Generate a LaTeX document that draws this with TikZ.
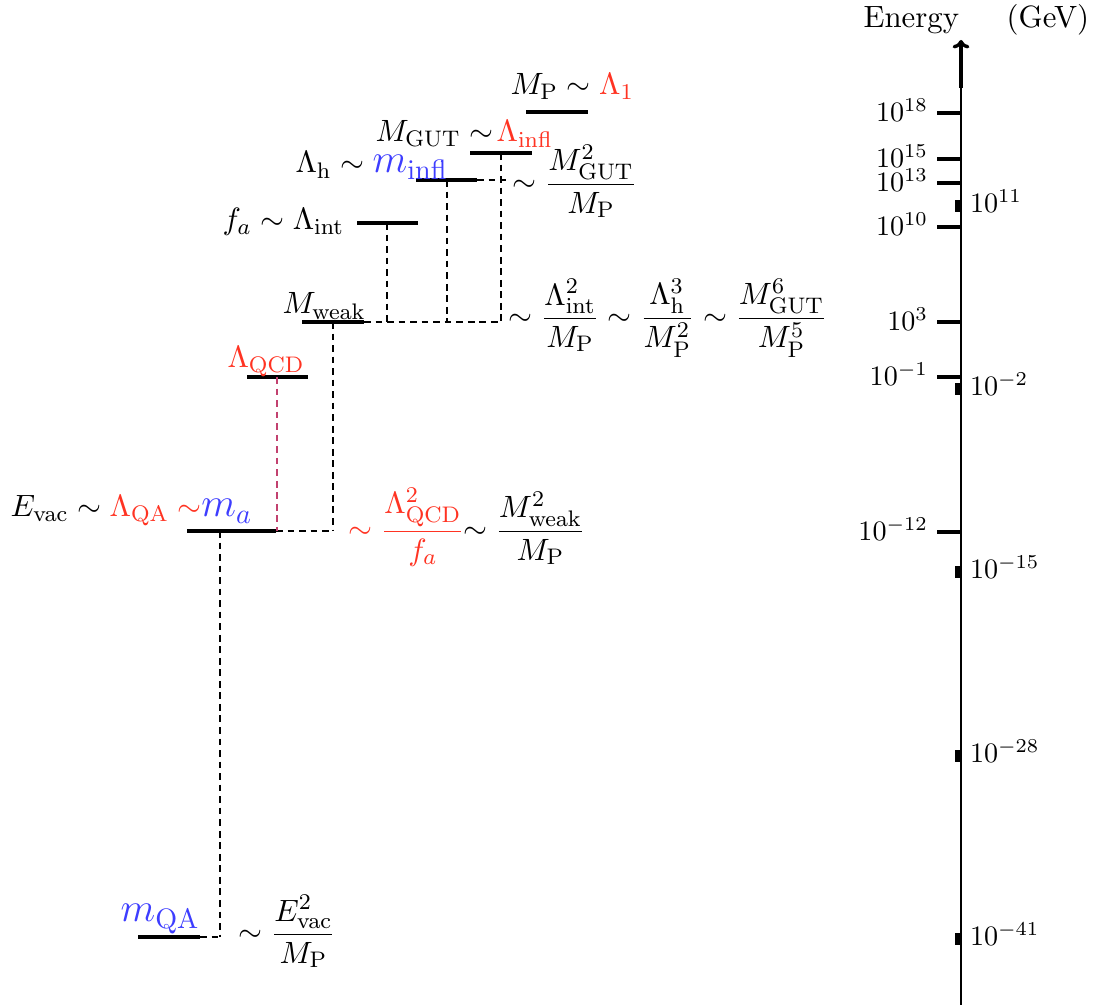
\documentclass[tikz,border=0pt,11pt]{standalone}
\usepackage{amsmath,amssymb}
\usepackage{xcolor}
\usetikzlibrary{arrows.meta,positioning,calc}
\definecolor{scRed}{HTML}{FF3322}
\definecolor{scBlue}{HTML}{3D3DFF}
\definecolor{scPurple}{HTML}{C2416F}

\begin{document}
\begin{tikzpicture}[
  x=0.0125cm,y=-0.0125cm,
  level/.style={line width=1.1pt},
  link/.style={draw=black,line width=0.6pt,dash pattern=on 2.4pt off 1.7pt},
  qcdlink/.style={link,draw=scPurple},
  lbl/.style={inner sep=0pt,anchor=base west},
  tickmark/.style={line width=1.1pt},
  ticklbl/.style={anchor=east,inner sep=3pt,yshift=1pt,font=\small},
  blip/.style={fill=black},
  bliplbl/.style={anchor=west,inner sep=3pt,yshift=2pt,font=\small}
]
\useasboundingbox (0,0) rectangle (1096,1005);

% energy levels
\coordinate (mp-w) at (526,112);  \coordinate (mp-e) at (588,112);
\coordinate (gut-w) at (470,153); \coordinate (gut-e) at (532,153);
\coordinate (h-w) at (416,180);   \coordinate (h-e) at (477,180);
\coordinate (fa-w) at (357,223);  \coordinate (fa-e) at (418,223);
\coordinate (wk-w) at (302,322);  \coordinate (wk-e) at (364,322);
\coordinate (qcd-w) at (247,377); \coordinate (qcd-e) at (308,377);
\coordinate (a-w) at (187,531);   \coordinate (a-e) at (276,531);
\coordinate (qa-w) at (138,937);  \coordinate (qa-e) at (200,937);
\foreach \lv in {mp,gut,h,fa,wk,qcd,a,qa}
  \draw[level] (\lv-w) -- (\lv-e);

\coordinate (gut-c) at (501,153);
\coordinate (h-c) at (447,180);
\coordinate (fa-c) at (387,223);
\coordinate (wk-c) at (333,322);
\coordinate (qcd-c) at (277,377);
\coordinate (a-c) at (220,531);
\coordinate (h-j) at (506,180);
\coordinate (wk-j) at (501,322);
\coordinate (a-j) at (333,531);
\coordinate (qa-j) at (220,937);

\draw[link] (h-e) -- (h-j);
\draw[link] (gut-c) -- (wk-j);
\draw[link] (h-c) -- (h-c |- wk-j);
\draw[link] (fa-c) -- (fa-c |- wk-j);
\draw[link] (wk-e) -- (wk-j);
\draw[link] (wk-c) -- (a-j);
\draw[link] (a-e) -- (a-j);
\draw[qcdlink] (qcd-c) -- (qcd-c |- a-e);
\draw[link] (a-c) -- (qa-j);
\draw[link] (qa-e) -- (qa-j);

% labels
\node[lbl] (mp-lbl) at (510,95) {$M_{\mathrm{P}}\sim{\color{scRed}\Lambda_1}$};
\node[lbl] (gut-lbl) at (375,142) {$M_{\mathrm{GUT}}\sim\!{\color{scRed}\Lambda_{\mathrm{infl}}}$};
\node[lbl] (h-lbl) at (295,173) {$\Lambda_{\mathrm{h}}\sim{\color{scBlue}\mbox{\Large$m_{\mathrm{infl}}$}}$};
\node[lbl] (fa-lbl) at (222,230) {$f_a\sim\Lambda_{\mathrm{int}}$};
\node[lbl] (wk-lbl) at (282,314) {$M_{\mathrm{weak}}$};
\node[lbl] (qcd-lbl) at (227,368) {$\color{scRed}\Lambda_{\mathrm{QCD}}$};
\node[lbl] (a-lbl) at (10,517) {$E_{\mathrm{vac}}\sim{\color{scRed}\Lambda_{\mathrm{QA}}\sim}{\color{scBlue}\mbox{\Large$m_a$}}$};
\node[lbl] (qa-lbl) at (120,922) {\color{scBlue}\Large$m_{\mathrm{QA}}$};

\node[lbl] (gut-rel) at (512,192) {$\sim\dfrac{M^2_{\mathrm{GUT}}}{M_{\mathrm{P}}}$};
\node[lbl] (wk-rel) at (508,326) {$\sim\dfrac{\Lambda^2_{\mathrm{int}}}{M_{\mathrm{P}}}\sim\dfrac{\Lambda^3_{\mathrm{h}}}{M^2_{\mathrm{P}}}\sim\dfrac{M^6_{\mathrm{GUT}}}{M^5_{\mathrm{P}}}$};
\node[lbl] (a-rel) at (348,539) {${\color{scRed}\sim\dfrac{\Lambda^2_{\mathrm{QCD}}}{f_a}}\!\!\sim\dfrac{M^2_{\mathrm{weak}}}{M_{\mathrm{P}}}$};
\node[lbl] (qa-rel) at (238,942) {$\sim\dfrac{E^2_{\mathrm{vac}}}{M_{\mathrm{P}}}$};

% energy axis
\coordinate (ax-bot) at (961,1005);
\coordinate (ax-knee) at (961,88);
\coordinate (ax-top) at (961,40);
\draw[line width=0.7pt] (ax-bot) -- (ax-knee);
\draw[line width=1.2pt,-{To[length=3pt,width=6pt]}] (ax-knee) -- (ax-top);
\node[lbl] (ax-lbl) at (863,28) {Energy\quad\hspace{6pt}(GeV)};

\foreach \yy/\ex in {113/18,159/15,183/13,227/10,322/3,377/-1,532/-12}{
  \coordinate (tk\ex) at (937,\yy);
  \draw[tickmark] (tk\ex) -- (ax-bot |- tk\ex);
  \node[ticklbl] (tl\ex) at (tk\ex) {$10^{\ex}$};
}
\foreach \yy/\ex in {207/11,390/-2,573/-15,757/-28,940/-41}{
  \coordinate (bp\ex) at (961,\yy);
  \fill[blip] ($(bp\ex)+(-6,-7)$) rectangle ($(bp\ex)+(0,5)$);
  \node[bliplbl] (bl\ex) at (bp\ex) {$10^{\ex}$};
}
\end{tikzpicture}
\end{document}
